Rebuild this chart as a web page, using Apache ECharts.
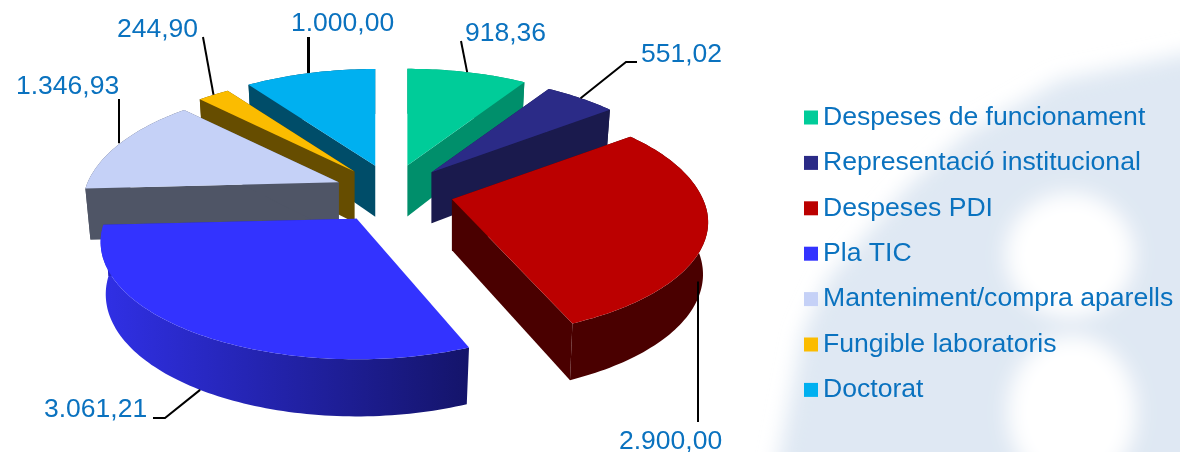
<!DOCTYPE html>
<html>
<head>
<meta charset="utf-8">
<style>
html, body { margin: 0; padding: 0; background: #fff; }
#wrap { position: relative; width: 1180px; height: 452px; overflow: hidden; }
#wm, #chart { position: absolute; left: 0; top: 0; width: 1180px; height: 452px; }
</style>
<script src="https://cdn.jsdelivr.net/npm/echarts@6/dist/echarts.min.js"></script>
</head>
<body>
<div id="wrap">
    <!-- faint logo behind the legend -->
    <svg id="wm" viewBox="0 0 1180 452">
        <defs><filter id="soft" x="-20%" y="-20%" width="140%" height="140%"><feGaussianBlur stdDeviation="10"/></filter></defs>
        <g filter="url(#soft)">
            <polygon points="770,500 780,452 803,333 827,280 907,187 967,133 1060,80 1230,45 1230,500" fill="#dfe8f3"/>
            <ellipse cx="1070" cy="255" rx="64" ry="62" fill="#fff"/>
            <ellipse cx="1072" cy="412" rx="64" ry="76" fill="#fff"/>
        </g>
    </svg>
    <div id="chart"></div>
</div>
<script>
var categories = ['Despeses de funcionament', 'Representació institucional', 'Despeses PDI', 'Pla TIC', 'Manteniment/compra aparells', 'Fungible laboratoris', 'Doctorat'];
var values = [918.36, 551.02, 2900.00, 3061.21, 1346.93, 244.90, 1000.00];

var topColors = ['#00cc99', '#2b2b87', '#bb0000', '#3333ff', '#c5d1f7', '#fbbc00', '#00b0f0'];
var wallColors = ['#008f6b', '#1a1a4d', '#4a0000', '#2626c0', '#4f5566', '#664d00', '#004d69'];
// paint order, back slices first
var paintOrder = [2, 3, 6, 7, 5, 4, 1];
// where each label sits, and the bend of its leader line
var labelPos = [[465, 33.5], [641, 54.5], [619, 441.5], [44, 409.5], [16, 86.5], [117, 29.5], [291, 23.5]];
var leaderPath = [[[461, 41]], [[626, 62], [637, 62]], [[698, 422]], [[165, 418], [153, 418]], [[119, 99]], [[203, 37]], [[308.5, 37]]];
var leaderVertical = [false, false, true, false, true, false, true];
var leaderWidths = [2, 2, 2, 2, 2, 2, 3];
// small per slice corrections, the original render is not a perfect projection
var tipNudge = [[-1, -1], [0, 0], [1, 0], [-2, 2], [2, 0], [0, 0], [1, -1]];
var frontSquash = [1, 1, 0.95, 0.97, 1, 1, 1];
var startTrim = [0, 0, 0, 0.03, 0, 0, 0];

var CX = 392, CY = 192;      // pie centre
var RX = 251, RY = 116;      // radii of the disc
var PERSP = 0.2;             // perspective strength
var EXPLODE = 0.24;          // slices pushed out by this share of radius
var DEPTH = 51;              // thickness of the pie
var TEXT_COLOR = '#0a72bf';

var total = values.reduce(function(a, b){ return a + b; }, 0);
var startAngles = [];
values.reduce(function(acc, v, i){
    startAngles[i] = acc;
    return acc + v / total * 2 * Math.PI;
}, 0);

function project(angle, r){
    var x = Math.sin(angle) * r;
    var y = -Math.cos(angle) * r;
    var s = 1 / (1 - PERSP * y);
    return [RX * x * s, RY * y * s];
}
function pointMakers(i, tip){
    function rim(angle){
        var p = project(angle, 1);
        if(p[1] > 0){
            p[1] *= frontSquash[i];
        }
        return p;
    }
    return {
        top: function(angle){
            var p = rim(angle);
            return [tip[0] + p[0], tip[1] + p[1]];
        },
        low: function(angle){
            var p = rim(angle);
            return [tip[0] + p[0] * 0.98, tip[1] + p[1] + DEPTH * (1 - 0.12 * Math.cos(angle))];
        }
    };
}
function formatValue(v){
    var parts = v.toFixed(2).split('.');
    return parts[0].replace(/\B(?=(\d{3})+$)/g, '.') + ',' + parts[1];
}
function arcPoints(fn, a0, a1){
    var n = Math.max(2, Math.ceil((a1 - a0) / 0.02));
    var pts = [];
    for(var i = 0; i <= n; i++){
        pts.push(fn(a0 + (a1 - a0) * i / n));
    }
    return pts;
}

function renderSlice(params){
    var i = params.seriesIndex;
    var a0 = startAngles[i];
    var a1 = a0 + values[i] / total * 2 * Math.PI;
    var mid = (a0 + a1) / 2;
    var off = project(mid, EXPLODE);
    var tip = [CX + off[0] + tipNudge[i][0], CY + off[1] + tipNudge[i][1]];
    var tipLow = [tip[0], tip[1] + DEPTH];
    var at = pointMakers(i, tip);
    var wallFill = wallColors[i];
    if(i === 3){
        wallFill = new echarts.graphic.LinearGradient(0, 0, 1, 0, [
            {offset: 0, color: '#3030e6'},
            {offset: 1, color: '#14146a'}
        ]);
    }
    a0 += startTrim[i];

    var topArc = arcPoints(at.top, a0, a1);
    var lowArc = arcPoints(at.low, a0, a1);
    var children = [];
    // outer wall
    children.push({type: 'polygon', shape: {points: topArc.concat(lowArc.slice().reverse())}, style: {fill: wallFill}});
    // the two cut faces, the one of Pla TIC is hidden below its top
    [a0, a1].forEach(function(a){
        if(i === 3 && a === a0){
            return;
        }
        children.push({type: 'polygon', shape: {points: [tip, at.top(a), at.low(a), tipLow]}, style: {fill: wallColors[i]}});
    });
    // top face
    children.push({type: 'polygon', shape: {points: [tip].concat(topArc)}, style: {fill: topColors[i]}});

    // leader line starts at the middle of the slice, front slices on the lower rim
    var anchor = Math.cos(mid) < 0 ? at.low(mid) : at.top(mid);
    if(leaderVertical[i]){
        anchor[0] = leaderPath[i][0][0];
    }
    children.push({type: 'polyline', shape: {points: [anchor].concat(leaderPath[i])}, style: {stroke: '#000', lineWidth: leaderWidths[i], fill: null}});
    children.push({type: 'text', style: {
        x: labelPos[i][0], y: labelPos[i][1], text: formatValue(values[i]),
        fill: TEXT_COLOR, font: '26.5px "Liberation Sans", Arial, sans-serif', verticalAlign: 'middle'
    }});
    return {type: 'group', children: children};
}

var chart = echarts.init(document.getElementById('chart'));
chart.setOption({
    animation: false,
    backgroundColor: 'transparent',
    legend: {
        orient: 'vertical',
        left: 804,
        top: 102.5,
        padding: 0,
        itemWidth: 14,
        itemHeight: 14,
        itemGap: 15.4,
        icon: 'rect',
        selectedMode: false,
        data: categories,
        textStyle: {color: TEXT_COLOR, fontSize: 26.6, fontFamily: '"Liberation Sans", Arial, sans-serif', height: 30, lineHeight: 30}
    },
    series: categories.map(function(name, i){
        return {
            type: 'custom',
            name: name,
            coordinateSystem: 'none',
            silent: true,
            z: paintOrder[i],
            itemStyle: {color: topColors[i]},
            renderItem: renderSlice,
            data: [values[i]]
        };
    })
});
</script>
</body>
</html>
